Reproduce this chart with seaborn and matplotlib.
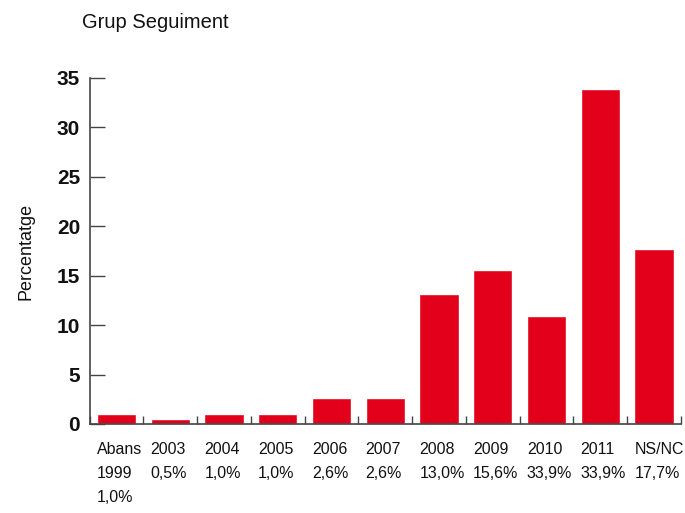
import matplotlib

matplotlib.use("Agg")
import matplotlib.pyplot as plt
import numpy as np
import seaborn as sns

categories = ["Abans 1999", "2003", "2004", "2005", "2006", "2007",
              "2008", "2009", "2010", "2011", "NS/NC"]
values = [1.0, 0.5, 1.0, 1.0, 2.6, 2.6, 13.1, 15.6, 10.9, 33.9, 17.7]
tick_labels = ["Abans\n1999\n1,0%", "2003\n0,5%", "2004\n1,0%", "2005\n1,0%",
               "2006\n2,6%", "2007\n2,6%", "2008\n13,0%", "2009\n15,6%",
               "2010\n33,9%", "2011\n33,9%", "NS/NC\n17,7%"]
y_ticks = [0, 5, 10, 15, 20, 25, 30, 35]

RED = "#e2001a"
AXIS = "#444444"
BAR_W = 0.73

sns.set_style("white")
plt.rcParams["font.family"] = ["Liberation Sans", "DejaVu Sans"]
plt.rcParams["text.color"] = "#111111"
plt.rcParams["xtick.color"] = AXIS
plt.rcParams["ytick.color"] = AXIS
plt.rcParams["xtick.labelcolor"] = "#111111"
plt.rcParams["ytick.labelcolor"] = "#111111"
plt.rcParams["axes.labelcolor"] = "#111111"

fig = plt.figure(figsize=(6.85, 5.13), dpi=100)
ax = fig.add_axes([0.131, 0.1735, 0.863, 0.6745])

sns.barplot(x=categories, y=values, color=RED, width=BAR_W,
            saturation=1, ax=ax)

ax.set_ylim(0, 35)
ax.set_xlim(-0.5, len(categories) - 0.5)
ax.set_yticks(y_ticks)
ax.set_yticklabels([str(t) for t in y_ticks], fontsize=15, fontweight="bold")
ax.tick_params(axis="y", direction="in", length=11, width=1,
               pad=7, left=True)

# labels left-aligned with bar edges, category boundaries as minor ticks
pos = np.arange(len(categories))
ax.set_xticks(pos - BAR_W / 2)
ax.set_xticklabels(tick_labels, ha="left", va="top", fontsize=11.5,
                   linespacing=1.75)
ax.set_xticks(np.arange(len(categories) + 1) - 0.5, minor=True)
ax.tick_params(axis="x", which="major", length=0, pad=13)
ax.tick_params(axis="x", which="minor", direction="in", length=6, width=1,
               bottom=True)

for side in ["top", "right"]:
    ax.spines[side].set_visible(False)
for side in ["left", "bottom"]:
    ax.spines[side].set_color(AXIS)
    ax.spines[side].set_linewidth(1.2)

ax.set_xlabel("")
ax.set_ylabel("Percentatge", fontsize=13, labelpad=16)
fig.text(0.12, 0.957, "Grup Seguiment", fontsize=14.5, ha="left", va="center")

fig.savefig("out.png", dpi=100)
